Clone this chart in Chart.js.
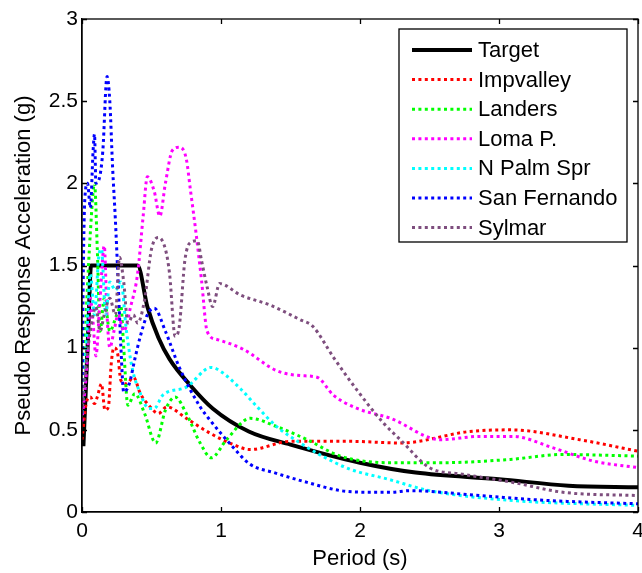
<!DOCTYPE html>
<html>
<head>
<meta charset="utf-8">
<script src="https://cdn.jsdelivr.net/npm/chart.js@4"></script>
<style>
  body { margin: 0; background: #fff; }
  #wrap { width: 642px; height: 573px; }
</style>
</head>
<body>
<div id="wrap"><canvas id="myChart"></canvas></div>
<script>
// setup - values (period in s, Sa in g)
const targetT  = [0.01, 0.03, 0.045, 0.065, 0.4, 0.47, 0.55, 0.63, 0.78, 0.94, 1.2, 1.5, 2.0, 2.4, 3.0, 3.5, 4.0];
const targetSa = [0.4, 0.8, 1.1, 1.5, 1.5, 1.25, 1.06, 0.93, 0.77, 0.63, 0.49, 0.41, 0.30, 0.24, 0.2, 0.16, 0.15];

const impT  = [0, 0.03, 0.06, 0.09, 0.11, 0.14, 0.165, 0.19, 0.21, 0.23, 0.255, 0.28, 0.32, 0.37, 0.42, 0.48, 0.55, 0.61, 0.75, 0.92, 1.09, 1.21, 1.5, 1.93, 2.29, 2.79, 3.08, 3.58, 4.0];
const impSa = [0.44, 0.66, 0.7, 0.66, 0.7, 0.78, 0.62, 0.64, 0.9, 1.0, 0.97, 0.8, 0.78, 0.82, 0.72, 0.65, 0.6, 0.64, 0.57, 0.48, 0.41, 0.38, 0.43, 0.43, 0.42, 0.49, 0.50, 0.44, 0.37];

const landT  = [0, 0.03, 0.06, 0.09, 0.11, 0.13, 0.16, 0.2, 0.25, 0.28, 0.3, 0.33, 0.38, 0.45, 0.53, 0.6, 0.67, 0.75, 0.85, 0.93, 1.04, 1.21, 1.4, 1.62, 1.86, 2.2, 2.6, 3.08, 3.46, 4.0];
const landSa = [0.6, 1.2, 1.7, 2.0, 1.6, 1.1, 1.3, 1.1, 1.2, 1.25, 1.0, 0.65, 0.72, 0.6, 0.42, 0.62, 0.70, 0.6, 0.42, 0.33, 0.44, 0.57, 0.52, 0.44, 0.34, 0.3, 0.3, 0.32, 0.35, 0.34];

const lomaT  = [0, 0.04, 0.06, 0.08, 0.1, 0.13, 0.16, 0.18, 0.2, 0.23, 0.26, 0.3, 0.35, 0.4, 0.44, 0.47, 0.52, 0.56, 0.6, 0.65, 0.70, 0.75, 0.78, 0.82, 0.86, 0.9, 0.97, 1.16, 1.4, 1.57, 1.69, 1.81, 1.98, 2.22, 2.58, 2.86, 3.1, 3.39, 3.68, 4.0];
const lomaSa = [0.55, 0.95, 1.3, 1.15, 0.95, 1.3, 1.62, 1.2, 1.0, 1.1, 1.2, 1.1, 1.25, 1.45, 1.8, 2.04, 1.95, 1.8, 2.0, 2.2, 2.22, 2.15, 1.96, 1.7, 1.41, 1.1, 1.05, 0.99, 0.86, 0.83, 0.82, 0.71, 0.63, 0.57, 0.44, 0.46, 0.46, 0.39, 0.31, 0.27];

const palmT  = [0, 0.03, 0.06, 0.09, 0.12, 0.14, 0.17, 0.2, 0.24, 0.28, 0.32, 0.36, 0.42, 0.48, 0.52, 0.58, 0.75, 0.93, 0.99, 1.14, 1.26, 1.4, 1.57, 1.73, 1.93, 2.2, 2.5, 3.1, 4.0];
const palmSa = [0.6, 1.0, 1.45, 1.2, 1.55, 1.6, 1.2, 1.4, 1.35, 1.4, 1.1, 0.88, 0.72, 0.63, 0.63, 0.71, 0.76, 0.88, 0.86, 0.75, 0.64, 0.52, 0.42, 0.34, 0.26, 0.2, 0.13, 0.07, 0.04];

const sfT  = [0, 0.01, 0.02, 0.04, 0.06, 0.08, 0.09, 0.1, 0.13, 0.15, 0.18, 0.2, 0.22, 0.24, 0.26, 0.28, 0.3, 0.34, 0.38, 0.42, 0.47, 0.52, 0.6, 0.7, 0.85, 0.92, 1.06, 1.21, 1.38, 1.62, 1.86, 2.07, 2.22, 2.36, 2.86, 3.35, 4.0];
const sfSa = [0.6, 1.5, 1.9, 2.0, 1.85, 2.2, 2.3, 2.0, 2.05, 2.2, 2.65, 2.5, 2.1, 1.78, 1.4, 1.0, 0.73, 0.78, 0.93, 1.07, 1.2, 1.24, 1.1, 0.88, 0.64, 0.56, 0.42, 0.29, 0.24, 0.18, 0.13, 0.12, 0.12, 0.13, 0.10, 0.07, 0.05];

const sylT  = [0, 0.03, 0.06, 0.1, 0.13, 0.16, 0.2, 0.24, 0.27, 0.3, 0.33, 0.37, 0.4, 0.45, 0.5, 0.55, 0.6, 0.63, 0.67, 0.7, 0.74, 0.78, 0.83, 0.86, 0.9, 0.94, 0.99, 1.14, 1.35, 1.57, 1.66, 1.81, 1.98, 2.17, 2.29, 2.5, 2.74, 3.1, 3.46, 4.0];
const sylSa = [0.6, 0.9, 1.1, 1.25, 1.1, 1.2, 1.3, 1.2, 1.55, 1.4, 1.15, 1.2, 1.15, 1.29, 1.6, 1.67, 1.6, 1.45, 1.07, 1.13, 1.53, 1.64, 1.65, 1.53, 1.37, 1.25, 1.39, 1.32, 1.26, 1.17, 1.13, 0.94, 0.74, 0.54, 0.44, 0.27, 0.23, 0.18, 0.12, 0.10];

const xTicks = [0, 1, 2, 3, 4];
const yTicks = [0, 0.5, 1, 1.5, 2, 2.5, 3];

const pts = (t, v) => t.map((x, i) => ({ x: x, y: v[i] }));

const dotted = (label, t, v, color, order) => ({
  label: label,
  data: pts(t, v),
  borderColor: color,
  borderWidth: 3,
  borderDash: [3, 3.4],
  pointRadius: 0,
  cubicInterpolationMode: 'monotone',
  order: order
});

const data = {
  datasets: [
    {
      label: 'Target',
      data: pts(targetT, targetSa),
      borderColor: '#000000',
      borderWidth: 4,
      pointRadius: 0,
      cubicInterpolationMode: 'monotone',
      order: 7
    },
    dotted('Impvalley', impT, impSa, '#ff0000', 6),
    dotted('Landers', landT, landSa, '#00ff00', 5),
    dotted('Loma P.', lomaT, lomaSa, '#ff00ff', 4),
    dotted('N Palm Spr', palmT, palmSa, '#00ffff', 3),
    dotted('San Fernando', sfT, sfSa, '#0000ff', 2),
    dotted('Sylmar', sylT, sylSa, '#7e4e7e', 1)
  ]
};

// box + inward ticks like matlab
const boxTicks = {
  id: 'boxTicks',
  afterDatasetsDraw(chart) {
    const { ctx, chartArea: a, scales: { x, y } } = chart;
    ctx.save();
    ctx.strokeStyle = '#000';
    ctx.lineWidth = 1.3;
    ctx.strokeRect(a.left, a.top, a.right - a.left, a.bottom - a.top);
    ctx.beginPath();
    xTicks.forEach(v => {
      const px = Math.round(x.getPixelForValue(v)) + 0.5;
      ctx.moveTo(px, a.bottom); ctx.lineTo(px, a.bottom - 5);
      ctx.moveTo(px, a.top); ctx.lineTo(px, a.top + 5);
    });
    yTicks.forEach(v => {
      const py = Math.round(y.getPixelForValue(v)) + 0.5;
      ctx.moveTo(a.left, py); ctx.lineTo(a.left + 5, py);
      ctx.moveTo(a.right, py); ctx.lineTo(a.right - 5, py);
    });
    ctx.stroke();
    ctx.restore();
  }
};

// legend box in the upper right corner
const boxLegend = {
  id: 'boxLegend',
  afterDraw(chart) {
    const ctx = chart.ctx;
    const l = 399, t = 29, w = 228, h = 213;
    ctx.save();
    ctx.fillStyle = '#fff';
    ctx.fillRect(l, t, w, h);
    ctx.strokeStyle = '#000';
    ctx.lineWidth = 1.3;
    ctx.strokeRect(l, t, w, h);
    ctx.font = '22px "Liberation Sans", Arial, sans-serif';
    ctx.textBaseline = 'middle';
    chart.data.datasets.forEach((ds, i) => {
      const cy = 50 + i * 29.6;
      ctx.beginPath();
      ctx.strokeStyle = ds.borderColor;
      ctx.lineWidth = ds.borderWidth;
      ctx.setLineDash(ds.borderDash || []);
      ctx.moveTo(412, cy);
      ctx.lineTo(472, cy);
      ctx.stroke();
      ctx.setLineDash([]);
      ctx.fillStyle = '#000';
      ctx.fillText(ds.label, 478, cy + 1);
    });
    ctx.restore();
  }
};

Chart.defaults.font.family = '"Liberation Sans", Arial, sans-serif';
Chart.defaults.color = '#000';

// config
const config = {
  type: 'line',
  data,
  options: {
    responsive: true,
    maintainAspectRatio: false,
    animation: false,
    layout: { padding: { top: 19, right: 4, left: 0, bottom: 0 } },
    plugins: { legend: { display: false }, tooltip: { enabled: false } },
    scales: {
      x: {
        type: 'linear',
        min: 0,
        max: 4,
        afterBuildTicks: s => { s.ticks = xTicks.map(v => ({ value: v })); },
        afterFit: s => { s.height = 61; s.paddingLeft = 0; s.paddingRight = 0; },
        grid: { display: false, drawTicks: false },
        border: { display: true, color: '#000', width: 1.3 },
        ticks: { font: { size: 21 }, padding: 7, maxRotation: 0, callback: v => String(v) },
        title: { display: true, text: 'Period (s)', font: { size: 22 }, padding: { top: 0, bottom: 1 } }
      },
      y: {
        min: 0,
        max: 3,
        afterBuildTicks: s => { s.ticks = yTicks.map(v => ({ value: v })); },
        afterFit: s => { s.width = 82; },
        grid: { display: false, drawTicks: false },
        border: { display: true, color: '#000', width: 1.3 },
        ticks: { font: { size: 21 }, padding: 4, callback: v => String(v) },
        title: { display: true, text: 'Pseudo Response Acceleration (g)', font: { size: 22 }, padding: { top: 11, bottom: 0 } }
      }
    }
  },
  plugins: [boxTicks, boxLegend]
};

// render init block
const myChart = new Chart(
  document.getElementById('myChart'),
  config
);
</script>
</body>
</html>
